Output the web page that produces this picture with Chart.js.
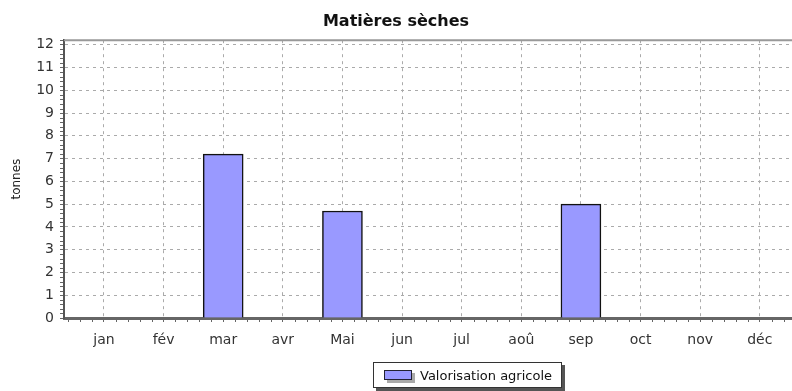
<!DOCTYPE html>
<html lang="fr">
<head>
<meta charset="utf-8">
<title>Matières sèches</title>
<script src="https://cdn.jsdelivr.net/npm/chart.js@4/dist/chart.umd.min.js"></script>
<style>
    html, body { margin: 0; padding: 0; background: #fff; }
    #wrap { position: relative; width: 792px; height: 391px; }
    #legend {
        position: absolute; left: 373px; top: 362px; height: 24px;
        display: flex; align-items: center; padding: 0 9px 0 10px;
        background: #fff; border: 1px solid #333; box-shadow: 3px 3px 0 #555;
        font: 13px "DejaVu Sans", sans-serif; color: #111;
    }
    #legend .swatch {
        position: relative; width: 26px; height: 8px; margin-right: 8px;
        border: 1px solid #223; box-shadow: 3px 3px 0 #aaa;
    }
</style>
</head>
<body>
<div id="wrap">
    <canvas id="chart" width="792" height="391"></canvas>
    <div id="legend"></div>
</div>
<script>
// Données : tonnes de matières sèches par mois
const months = ['jan', 'fév', 'mar', 'avr', 'Mai', 'jun', 'jul', 'aoû', 'sep', 'oct', 'nov', 'déc'];
const valorisation = [0, 0, 7.2, 0, 4.7, 0, 0, 0, 5.0, 0, 0, 0];
const yTicks = [0, 1, 2, 3, 4, 5, 6, 7, 8, 9, 10, 11, 12];

const FONT = '"DejaVu Sans", sans-serif';
const GRID = '#aaa';

// Cadre du haut + petites graduations sur les axes
const plotFrame = {
    id: 'plotFrame',
    afterDraw(chart) {
        const { ctx, chartArea: a, scales: { x, y } } = chart;
        ctx.save();
        ctx.strokeStyle = '#999';
        ctx.lineWidth = 2;
        ctx.beginPath();
        ctx.moveTo(a.left, a.top);
        ctx.lineTo(a.right, a.top);
        ctx.stroke();

        ctx.strokeStyle = '#666';
        ctx.lineWidth = 1;
        ctx.beginPath();
        for (let k = Math.ceil(x.min * 5); k <= Math.floor(x.max * 5); k++) {
            if (k % 5 === 0) continue;
            const px = Math.round(x.getPixelForValue(k / 5)) + 0.5;
            ctx.moveTo(px, a.bottom + 1);
            ctx.lineTo(px, a.bottom + 4);
        }
        for (let k = 0; k <= Math.floor(y.max * 5); k++) {
            if (k % 5 === 0) continue;
            const py = Math.round(y.getPixelForValue(k / 5)) + 0.5;
            ctx.moveTo(a.left - 4, py);
            ctx.lineTo(a.left - 1, py);
        }
        ctx.stroke();
        ctx.restore();
    }
};

const chart = new Chart(document.getElementById('chart'), {
    type: 'bar',
    data: {
        datasets: [{
            label: 'Valorisation agricole',
            data: months.map((m, i) => ({ x: i, y: valorisation[i] || null })),
            backgroundColor: '#9999ff',
            borderColor: '#111',
            borderWidth: 1.5,
            barThickness: 40
        }]
    },
    options: {
        responsive: false,
        animation: false,
        layout: { padding: { left: 0, right: 0, top: 0, bottom: 33 } },
        plugins: {
            legend: { display: false },
            tooltip: { enabled: false },
            title: {
                display: true,
                text: 'Matières sèches',
                color: '#111',
                font: { family: FONT, size: 16, weight: 'bold' },
                padding: { top: 12, bottom: 9 }
            }
        },
        scales: {
            x: {
                type: 'linear',
                min: -0.67,
                max: 11.54,
                offset: false,
                afterBuildTicks: s => { s.ticks = months.map((m, i) => ({ value: i })); },
                afterFit: s => { s.height = 40; },
                ticks: {
                    callback: v => months[v],
                    color: '#333',
                    font: { family: FONT, size: 14 },
                    padding: 10,
                    maxRotation: 0,
                    autoSkip: false
                },
                grid: {
                    offset: false,
                    color: GRID,
                    tickLength: 4,
                    tickColor: '#666',
                    tickBorderDash: []
                },
                border: { color: '#666', width: 3, dash: [3, 4] }
            },
            y: {
                min: 0,
                max: 12.2,
                afterBuildTicks: s => { s.ticks = yTicks.map(v => ({ value: v })); },
                afterFit: s => { s.width = 64; },
                ticks: {
                    color: '#333',
                    font: { family: FONT, size: 14 },
                    padding: 6
                },
                grid: {
                    color: GRID,
                    tickLength: 4,
                    tickColor: '#666',
                    tickBorderDash: []
                },
                border: { color: '#555', width: 2, dash: [3, 4] },
                title: {
                    display: true,
                    text: 'tonnes',
                    color: '#222',
                    font: { family: FONT, size: 12 },
                    padding: { top: 10, bottom: 0 }
                }
            }
        }
    },
    plugins: [plotFrame]
});

// Légende en encadré sous le graphique
document.getElementById('legend').innerHTML = chart.data.datasets.map(ds => `
    <span class="swatch" style="background:${ds.backgroundColor}"></span>
    <span>${ds.label}</span>`).join('');
</script>
</body>
</html>
